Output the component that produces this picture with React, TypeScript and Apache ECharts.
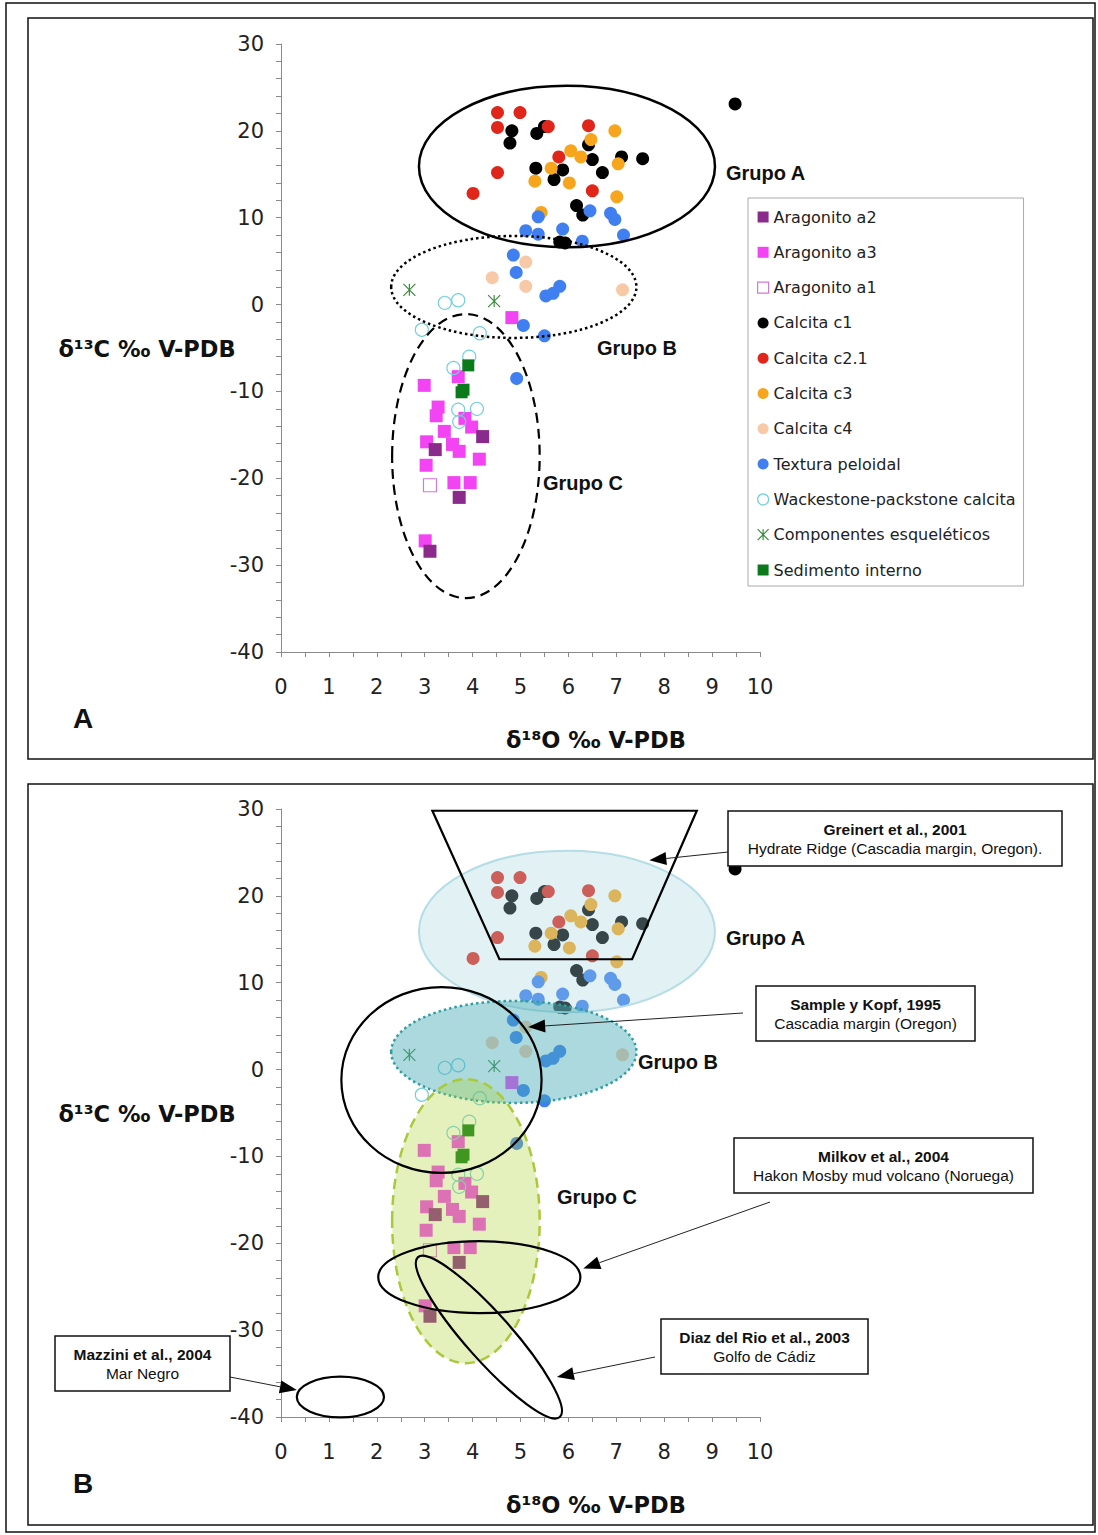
import React, { useEffect, useRef } from 'react';
import * as echarts from 'echarts';

// ---- Data: [δ18O, δ13C] ----
const aragonitoA2 = [[4.21, -15.2], [3.22, -16.7], [3.72, -22.2], [3.11, -28.4]];
const aragonitoA3 = [[4.82, -1.5], [3.70, -8.3], [2.99, -9.3], [3.28, -11.8], [3.24, -12.8], [3.84, -13.1], [3.98, -14.1], [3.41, -14.6], [3.04, -15.8], [3.58, -16.1], [3.72, -16.9], [4.14, -17.8], [3.03, -18.5], [3.61, -20.5], [3.95, -20.5], [3.01, -27.2]];
const aragonitoA1 = [[3.11, -20.8]];
const calcitaC1 = [[9.48, 23.1], [4.82, 20.0], [4.78, 18.6], [5.34, 19.7], [5.50, 20.5], [6.42, 18.4], [6.50, 16.7], [7.11, 17.0], [7.55, 16.8], [5.32, 15.7], [5.88, 15.5], [5.70, 14.4], [6.71, 15.2], [6.17, 11.4], [6.30, 10.3], [5.82, 7.2], [5.93, 7.1]];
const calcitaC21 = [[4.52, 22.1], [4.99, 22.1], [4.52, 20.4], [5.58, 20.5], [6.42, 20.6], [4.52, 15.2], [4.01, 12.8], [5.80, 17.0], [6.50, 13.1]];
const calcitaC3 = [[6.97, 20.0], [6.47, 19.0], [6.05, 17.7], [6.26, 17.0], [7.04, 16.2], [5.64, 15.7], [5.30, 14.2], [6.02, 14.0], [7.01, 12.4], [5.43, 10.6]];
const calcitaC4 = [[5.11, 4.9], [4.41, 3.1], [5.11, 2.1], [7.13, 1.7]];
const texturaPeloidal = [[5.37, 10.1], [6.45, 10.8], [6.88, 10.5], [6.97, 9.8], [5.11, 8.5], [5.37, 8.1], [5.88, 8.7], [7.15, 8.0], [6.29, 7.3], [4.85, 5.7], [4.91, 3.7], [5.53, 1.0], [5.68, 1.3], [5.82, 2.1], [5.06, -2.4], [5.50, -3.6], [4.92, -8.5]];
const wackestone = [[3.42, 0.2], [3.70, 0.5], [2.94, -2.9], [4.15, -3.3], [3.93, -6.0], [3.60, -7.3], [3.70, -12.1], [4.09, -12.0], [3.72, -13.5]];
const componentes = [[2.68, 1.7], [4.45, 0.4]];
const sedimento = [[3.91, -7.0], [3.77, -10.1], [3.81, -9.8]];

const legendOrder = ['Aragonito a2', 'Aragonito a3', 'Aragonito a1', 'Calcita c1', 'Calcita c2.1', 'Calcita c3', 'Calcita c4', 'Textura peloidal', 'Wackestone-packstone calcita', 'Componentes esqueléticos', 'Sedimento interno'];

// ---- Group / literature regions (data units) ----
const grupoA = { cx: 5.97, cy: 15.9, rx: 3.09, ry: 9.3 };
const grupoB = { cx: 4.86, cy: 2.03, rx: 2.56, ry: 5.87 };
const grupoC = { cx: 3.86, cy: -17.45, rx: 1.54, ry: 16.35 };
const sampleKopf = { cx: 3.35, cy: -1.2, rx: 2.09, ry: 10.7 };
const milkov = { cx: 4.14, cy: -23.9, rx: 2.11, ry: 4.14 };
const mazzini = { cx: 1.24, cy: -37.7, rx: 0.91, ry: 2.34 };
const diazEnds = [[2.86, -21.6], [5.82, -40.0]];
const greinertTrap = [[3.16, 29.8], [8.68, 29.8], [7.33, 12.7], [4.56, 12.7]];
const arrowTips = { greinert: [7.69, 24.1], sample: [5.16, 4.9], milkov: [6.31, -22.9], diaz: [5.76, -35.4], mazzini: [0.33, -36.9] };

const STAR = 'path://M0,0L10,10M10,0L0,10M5,0L5,10';

const defs = [
  { name: 'Aragonito a3', data: aragonitoA3, symbol: 'rect', size: 13, style: { color: '#f244f2' } },
  { name: 'Aragonito a2', data: aragonitoA2, symbol: 'rect', size: 13, style: { color: '#8a2a8a' } },
  { name: 'Aragonito a1', data: aragonitoA1, symbol: 'rect', size: 13, style: { color: 'rgba(255,255,255,0)', borderColor: '#d47ad4', borderWidth: 1.2 } },
  { name: 'Calcita c1', data: calcitaC1, symbol: 'circle', size: 13, style: { color: '#000000' } },
  { name: 'Calcita c2.1', data: calcitaC21, symbol: 'circle', size: 13, style: { color: '#e0261a' } },
  { name: 'Calcita c3', data: calcitaC3, symbol: 'circle', size: 13, style: { color: '#f7a51c' } },
  { name: 'Calcita c4', data: calcitaC4, symbol: 'circle', size: 13, style: { color: '#f7c9a6' } },
  { name: 'Textura peloidal', data: texturaPeloidal, symbol: 'circle', size: 13, style: { color: '#3f7ff0' } },
  { name: 'Wackestone-packstone calcita', data: wackestone, symbol: 'circle', size: 13, style: { color: 'rgba(255,255,255,0)', borderColor: '#72cfdc', borderWidth: 1.2 } },
  { name: 'Componentes esqueléticos', data: componentes, symbol: STAR, size: 12, style: { color: 'rgba(255,255,255,0)', borderColor: '#3d8b3d', borderWidth: 1.2 } },
  { name: 'Sedimento interno', data: sedimento, symbol: 'rect', size: 12, style: { color: '#0b7a1a' } },
];

export default function App() {
  const ref = useRef<HTMLDivElement>(null);
  useEffect(() => {
    const chart = echarts.init(ref.current!, null, { renderer: 'svg' });
    const gridTops = [44, 809];
    const axisCommon = {
      axisLine: { onZero: false, lineStyle: { color: '#8a8a8a', width: 1 } },
      axisTick: { length: 5, lineStyle: { color: '#8a8a8a' } },
      splitLine: { show: false },
      axisLabel: { fontFamily: 'DejaVu Sans', fontSize: 21, color: '#222' },
    };
    const series: any[] = [];
    [0, 1].forEach((g) => {
      defs.forEach((d) => {
        series.push({
          type: 'scatter', name: d.name, xAxisIndex: g, yAxisIndex: g, data: d.data,
          symbol: d.symbol, symbolSize: d.size, itemStyle: { ...d.style, opacity: 1 }, silent: true, z: 2,
        });
      });
    });
    const byName: any = {};
    defs.forEach((d) => (byName[d.name] = d));
    chart.setOption({
      animation: false,
      backgroundColor: '#ffffff',
      grid: gridTops.map((t) => ({ left: 281, top: t, width: 479, height: 608 })),
      xAxis: [0, 1].map((g) => ({
        ...axisCommon, gridIndex: g, type: 'value', min: 0, max: 10, interval: 1,
        minorTick: { show: true, splitNumber: 2, length: 5, lineStyle: { color: '#8a8a8a' } },
        axisLabel: { ...axisCommon.axisLabel, margin: 24 },
      })),
      yAxis: [0, 1].map((g) => ({
        ...axisCommon, gridIndex: g, type: 'value', min: -40, max: 30, interval: 10,
        minorTick: { show: true, splitNumber: 5, length: 5, lineStyle: { color: '#8a8a8a' } },
        axisLabel: { ...axisCommon.axisLabel, margin: 17 },
      })),
      legend: {
        orient: 'vertical', left: 748, top: 198, padding: [9, 8, 6, 9], itemGap: 15.3,
        itemWidth: 11, itemHeight: 11, borderColor: '#a8a8a8', borderWidth: 1,
        backgroundColor: '#fff', selectedMode: false,
        textStyle: { fontFamily: 'DejaVu Sans', fontSize: 16, color: '#222', lineHeight: 20 },
        data: legendOrder.map((n) => {
          const d = byName[n];
          return {
            name: n, icon: d.symbol,
            itemStyle: { color: d.style.color, opacity: 1, borderColor: d.style.borderColor || 'rgba(0,0,0,0)', borderWidth: d.style.borderWidth || 0 },
          };
        }),
      },
      series,
    });

    const P = (g: number, x: number, y: number) => chart.convertToPixel({ gridIndex: g } as any, [x, y]) as number[];
    const ell = (g: number, e: any, style: any) => {
      const c = P(g, e.cx, e.cy);
      const r = P(g, e.cx + e.rx, e.cy + e.ry);
      return { type: 'ellipse', silent: true, z: 100, shape: { cx: c[0], cy: c[1], rx: r[0] - c[0], ry: c[1] - r[1] }, style };
    };
    const txt = (x: number, y: number, text: string, size: number, weight: string, family: string, align = 'center', fill = '#111') => ({
      type: 'text', x, y, z: 120, silent: true,
      style: { text, fontSize: size, fontWeight: weight, fontFamily: family, fill, align, verticalAlign: 'middle', textAlign: align, textVerticalAlign: 'middle' },
    });
    const arrow = (sx: number, sy: number, tipData: number[]) => {
      const [tx, ty] = P(1, tipData[0], tipData[1]);
      const dx = tx - sx, dy = ty - sy;
      const L = Math.hypot(dx, dy);
      const ux = dx / L, uy = dy / L;
      const hl = 17, hw = 6.5;
      const bx = tx - ux * hl, by = ty - uy * hl;
      return [
        { type: 'line', z: 110, silent: true, shape: { x1: sx, y1: sy, x2: bx, y2: by }, style: { stroke: '#222', lineWidth: 1 } },
        { type: 'polygon', z: 110, silent: true, shape: { points: [[tx, ty], [bx - uy * hw, by + ux * hw], [bx + uy * hw, by - ux * hw]] }, style: { fill: '#000' } },
      ];
    };
    const box = (x: number, y: number, w: number, h: number, l1: string, l2: string) => [
      { type: 'rect', z: 115, silent: true, shape: { x, y, width: w, height: h }, style: { fill: '#fff', stroke: '#111', lineWidth: 1.5 } },
      txt(x + w / 2, y + 18, l1, 15.5, 'bold', 'Liberation Sans'),
      txt(x + w / 2, y + 37, l2, 15.5, 'normal', 'Liberation Sans'),
    ];

    const els: any[] = [];
    // frames
    els.push({ type: 'rect', z: 90, silent: true, shape: { x: 6, y: 3, width: 1089, height: 1529 }, style: { fill: 'none', stroke: '#111', lineWidth: 1.5 } });
    els.push({ type: 'rect', z: 90, silent: true, shape: { x: 28, y: 18, width: 1065, height: 741 }, style: { fill: 'none', stroke: '#111', lineWidth: 1.5 } });
    els.push({ type: 'rect', z: 90, silent: true, shape: { x: 28, y: 784, width: 1065, height: 741 }, style: { fill: 'none', stroke: '#111', lineWidth: 1.5 } });

    // panel A ellipses
    els.push(ell(0, grupoA, { fill: 'none', stroke: '#000', lineWidth: 2.5 }));
    els.push(ell(0, grupoB, { fill: 'none', stroke: '#000', lineWidth: 2.5, lineDash: [2.5, 3] }));
    els.push(ell(0, grupoC, { fill: 'none', stroke: '#000', lineWidth: 2.2, lineDash: [10, 6] }));

    // panel B filled group regions
    els.push(ell(1, grupoA, { fill: 'rgba(165,212,222,0.33)', stroke: '#b5dde5', lineWidth: 2 }));
    els.push(ell(1, grupoB, { fill: 'rgba(70,170,180,0.45)', stroke: '#2e9ea5', lineWidth: 2.5, lineDash: [2.5, 3] }));
    els.push(ell(1, grupoC, { fill: 'rgba(175,210,50,0.32)', stroke: '#a9c93a', lineWidth: 2.5, lineDash: [10, 6] }));

    // literature regions
    const litStyle = { fill: 'none', stroke: '#000', lineWidth: 2.2 };
    els.push({ type: 'polygon', z: 105, silent: true, shape: { points: greinertTrap.map((p) => P(1, p[0], p[1])) }, style: litStyle });
    els.push(ell(1, sampleKopf, litStyle));
    els.push(ell(1, milkov, litStyle));
    els.push(ell(1, mazzini, litStyle));
    {
      const a = P(1, diazEnds[0][0], diazEnds[0][1]);
      const b = P(1, diazEnds[1][0], diazEnds[1][1]);
      const cx = (a[0] + b[0]) / 2, cy = (a[1] + b[1]) / 2;
      const len = Math.hypot(b[0] - a[0], b[1] - a[1]) / 2;
      const ang = Math.atan2(b[1] - a[1], b[0] - a[0]);
      els.push({ type: 'ellipse', z: 105, silent: true, x: cx, y: cy, rotation: -ang, shape: { cx: 0, cy: 0, rx: len, ry: 23 }, style: litStyle });
    }

    // arrows and boxes
    els.push(...arrow(728, 852, arrowTips.greinert));
    els.push(...arrow(743, 1013, arrowTips.sample));
    els.push(...arrow(770, 1202, arrowTips.milkov));
    els.push(...arrow(655, 1357, arrowTips.diaz));
    els.push(...arrow(230, 1377, arrowTips.mazzini));
    els.push(...box(728, 811, 334, 55, 'Greinert et al., 2001', 'Hydrate Ridge (Cascadia margin, Oregon).'));
    els.push(...box(756, 986, 219, 55, 'Sample y Kopf, 1995', 'Cascadia margin (Oregon)'));
    els.push(...box(734, 1138, 299, 55, 'Milkov et al., 2004', 'Hakon Mosby mud volcano (Noruega)'));
    els.push(...box(661, 1319, 207, 55, 'Diaz del Rio et al., 2003', 'Golfo de Cádiz'));
    els.push(...box(55, 1336, 175, 55, 'Mazzini et al., 2004', 'Mar Negro'));

    // group labels
    els.push(txt(726, 173, 'Grupo A', 20, 'bold', 'Liberation Sans', 'left'));
    els.push(txt(597, 348, 'Grupo B', 20, 'bold', 'Liberation Sans', 'left'));
    els.push(txt(543, 483, 'Grupo C', 20, 'bold', 'Liberation Sans', 'left'));
    els.push(txt(726, 938, 'Grupo A', 20, 'bold', 'Liberation Sans', 'left'));
    els.push(txt(638, 1062, 'Grupo B', 20, 'bold', 'Liberation Sans', 'left'));
    els.push(txt(557, 1197, 'Grupo C', 20, 'bold', 'Liberation Sans', 'left'));

    // axis titles and panel letters
    [0, 765].forEach((dy, i) => {
      els.push(txt(147, 349 + dy, 'δ¹³C ‰ V-PDB', 22.5, 'bold', 'DejaVu Sans'));
      els.push(txt(596, 740 + dy, 'δ¹⁸O ‰ V-PDB', 22.5, 'bold', 'DejaVu Sans'));
      els.push(txt(83, 718 + dy, i === 0 ? 'A' : 'B', 28, 'bold', 'Liberation Sans'));
    });

    chart.setOption({ graphic: { elements: els } });
    return () => chart.dispose();
  }, []);
  return <div ref={ref} style={{ position: 'absolute', left: 0, top: 0, width: 1098, height: 1535, background: '#fff' }} />;
}
